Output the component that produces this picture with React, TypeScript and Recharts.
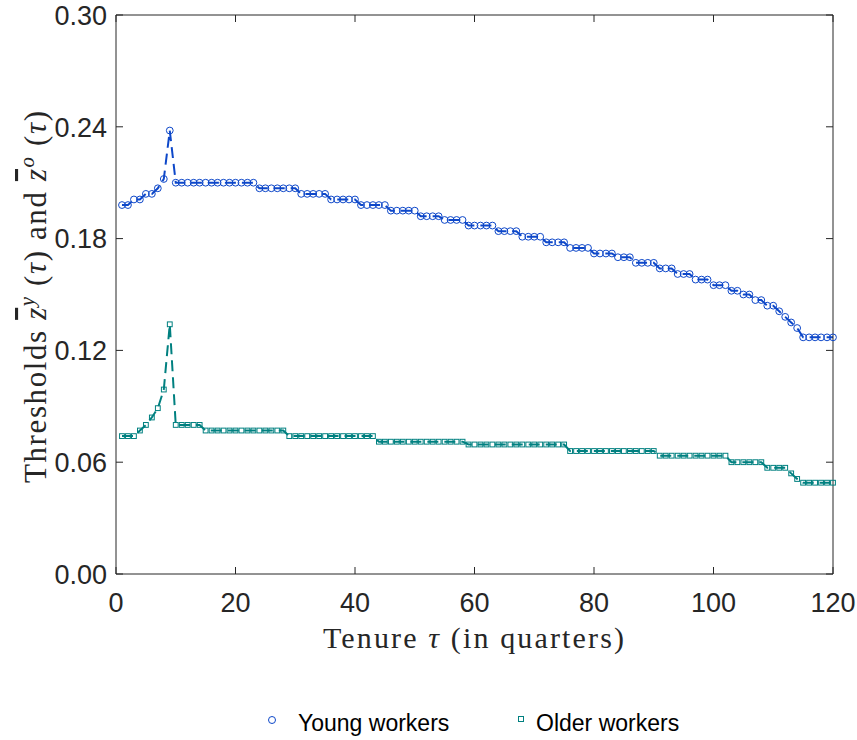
import { LineChart, Line, XAxis, YAxis } from "recharts";

const TAU = [
  1, 2, 3, 4, 5, 6, 7, 8, 9, 10, 11, 12, 13, 14, 15, 16, 17, 18, 19, 20,
  21, 22, 23, 24, 25, 26, 27, 28, 29, 30, 31, 32, 33, 34, 35, 36, 37, 38, 39, 40,
  41, 42, 43, 44, 45, 46, 47, 48, 49, 50, 51, 52, 53, 54, 55, 56, 57, 58, 59, 60,
  61, 62, 63, 64, 65, 66, 67, 68, 69, 70, 71, 72, 73, 74, 75, 76, 77, 78, 79, 80,
  81, 82, 83, 84, 85, 86, 87, 88, 89, 90, 91, 92, 93, 94, 95, 96, 97, 98, 99, 100,
  101, 102, 103, 104, 105, 106, 107, 108, 109, 110, 111, 112, 113, 114, 115, 116, 117, 118, 119, 120,
];

const YOUNG = [
  0.198, 0.198, 0.201, 0.201, 0.204, 0.204, 0.207, 0.212, 0.238, 0.21,
  0.21, 0.21, 0.21, 0.21, 0.21, 0.21, 0.21, 0.21, 0.21, 0.21,
  0.21, 0.21, 0.21, 0.207, 0.207, 0.207, 0.207, 0.207, 0.207, 0.207,
  0.204, 0.204, 0.204, 0.204, 0.204, 0.201, 0.201, 0.201, 0.201, 0.201,
  0.198, 0.198, 0.198, 0.198, 0.198, 0.195, 0.195, 0.195, 0.195, 0.195,
  0.192, 0.192, 0.192, 0.192, 0.19, 0.19, 0.19, 0.19, 0.187, 0.187,
  0.187, 0.187, 0.187, 0.184, 0.184, 0.184, 0.184, 0.181, 0.181, 0.181,
  0.181, 0.178, 0.178, 0.178, 0.178, 0.175, 0.175, 0.175, 0.175, 0.172,
  0.172, 0.172, 0.172, 0.17, 0.17, 0.17, 0.167, 0.167, 0.167, 0.167,
  0.164, 0.164, 0.164, 0.161, 0.161, 0.161, 0.158, 0.158, 0.158, 0.155,
  0.155, 0.155, 0.152, 0.152, 0.15, 0.15, 0.147, 0.147, 0.144, 0.144,
  0.141, 0.138, 0.135, 0.132, 0.127, 0.127, 0.127, 0.127, 0.127, 0.127,
];

const OLDER = [
  0.074, 0.074, 0.074, 0.077, 0.08, 0.084, 0.089, 0.099, 0.134, 0.08,
  0.08, 0.08, 0.08, 0.08, 0.077, 0.077, 0.077, 0.077, 0.077, 0.077,
  0.077, 0.077, 0.077, 0.077, 0.077, 0.077, 0.077, 0.077, 0.074, 0.074,
  0.074, 0.074, 0.074, 0.074, 0.074, 0.074, 0.074, 0.074, 0.074, 0.074,
  0.074, 0.074, 0.074, 0.071, 0.071, 0.071, 0.071, 0.071, 0.071, 0.071,
  0.071, 0.071, 0.071, 0.071, 0.071, 0.071, 0.071, 0.071, 0.0695, 0.0695,
  0.0695, 0.0695, 0.0695, 0.0695, 0.0695, 0.0695, 0.0695, 0.0695, 0.0695, 0.0695,
  0.0695, 0.0695, 0.0695, 0.0695, 0.0695, 0.066, 0.066, 0.066, 0.066, 0.066,
  0.066, 0.066, 0.066, 0.066, 0.066, 0.066, 0.066, 0.066, 0.066, 0.066,
  0.0635, 0.0635, 0.0635, 0.0635, 0.0635, 0.0635, 0.0635, 0.0635, 0.0635, 0.0635,
  0.0635, 0.0635, 0.06, 0.06, 0.06, 0.06, 0.06, 0.06, 0.057, 0.057,
  0.057, 0.057, 0.054, 0.051, 0.049, 0.049, 0.049, 0.049, 0.049, 0.049,
];

const X_TICKS = [0, 20, 40, 60, 80, 100, 120];
const Y_TICKS = [0, 0.06, 0.12, 0.18, 0.24, 0.3];

const BLUE = "#0d47c9";
const TEAL = "#008080";
const AXIS = "#262626";
const SANS = "'Liberation Sans', Arial, sans-serif";
const SERIF = "'Liberation Serif', 'Times New Roman', serif";

// plot box (svg coords)
const LEFT = 116;
const TOP = 15;
const RIGHT = 833;
const BOTTOM = 574;
const TICK = 7;

const data = TAU.map((t, i) => ({ tau: t, young: YOUNG[i], older: OLDER[i] }));

const BottomTick = (p: any) => (
  <g>
    <line x1={p.x} x2={p.x} y1={BOTTOM} y2={BOTTOM - TICK} stroke={AXIS} />
    <text x={p.x} y={612} textAnchor="middle" fontFamily={SANS} fontSize={27} fill={AXIS}>
      {p.payload.value}
    </text>
  </g>
);

const TopTick = (p: any) => (
  <line x1={p.x} x2={p.x} y1={TOP} y2={TOP + TICK} stroke={AXIS} />
);

const LeftTick = (p: any) => (
  <g>
    <line x1={LEFT} x2={LEFT + TICK} y1={p.y} y2={p.y} stroke={AXIS} />
    <text x={107} y={p.y} dy="0.36em" textAnchor="end" fontFamily={SANS} fontSize={27} fill={AXIS}>
      {Number(p.payload.value).toFixed(2)}
    </text>
  </g>
);

const RightTick = (p: any) => (
  <line x1={RIGHT} x2={RIGHT - TICK} y1={p.y} y2={p.y} stroke={AXIS} />
);

const CircleDot = (p: any) => (
  <circle key={`c${p.index}`} cx={p.cx} cy={p.cy} r={3.4} fill="none" stroke={BLUE} strokeWidth={1} />
);

const SquareDot = (p: any) => (
  <rect key={`s${p.index}`} x={p.cx - 2.4} y={p.cy - 2.4} width={4.8} height={4.8} fill="none" stroke={TEAL} strokeWidth={1} />
);

export default function App() {
  return (
    <div style={{ position: "absolute", left: 0, top: 0, width: 857, height: 740, background: "#fff" }}>
      <LineChart width={857} height={740} data={data} margin={{ top: 14, right: 23, bottom: 136, left: 56 }}>
        <XAxis
          dataKey="tau"
          type="number"
          domain={[0, 120]}
          ticks={X_TICKS}
          height={30}
          tickSize={0}
          tickLine={false}
          axisLine={{ stroke: AXIS }}
          tick={BottomTick}
          interval={0}
        />
        <XAxis
          xAxisId="top"
          dataKey="tau"
          orientation="top"
          type="number"
          domain={[0, 120]}
          ticks={X_TICKS}
          height={1}
          tickSize={0}
          tickLine={false}
          axisLine={{ stroke: AXIS }}
          tick={TopTick}
          interval={0}
        />
        <YAxis
          type="number"
          domain={[0, 0.3]}
          ticks={Y_TICKS}
          width={60}
          tickSize={0}
          tickLine={false}
          axisLine={{ stroke: AXIS }}
          tick={LeftTick}
          interval={0}
        />
        <YAxis
          yAxisId="right"
          orientation="right"
          type="number"
          domain={[0, 0.3]}
          ticks={Y_TICKS}
          width={1}
          tickSize={0}
          tickLine={false}
          axisLine={{ stroke: AXIS }}
          tick={RightTick}
          interval={0}
        />
        {/* invisible series so the top/right frame axes get drawn */}
        <Line
          xAxisId="top"
          yAxisId="right"
          dataKey="older"
          stroke="none"
          dot={false}
          activeDot={false}
          legendType="none"
          isAnimationActive={false}
        />
        <Line
          type="linear"
          dataKey="young"
          stroke={BLUE}
          strokeWidth={2}
          strokeDasharray="11 6"
          dot={CircleDot}
          isAnimationActive={false}
        />
        <Line
          type="linear"
          dataKey="older"
          stroke={TEAL}
          strokeWidth={2}
          strokeDasharray="11 6"
          dot={SquareDot}
          isAnimationActive={false}
        />
      </LineChart>

      {/* axis titles and legend */}
      <svg width={857} height={740} style={{ position: "absolute", left: 0, top: 0, pointerEvents: "none" }}>
        <text
          x={323}
          y={648}
          textLength={301}
          lengthAdjust="spacing"
          fontFamily={SERIF}
          fontSize={30}
          fill={AXIS}
        >
          Tenure <tspan fontStyle="italic">τ</tspan> (in quarters)
        </text>
        <text
          transform="translate(46, 483) rotate(-90)"
          x={0}
          y={0}
          textLength={372}
          lengthAdjust="spacing"
          fontFamily={SERIF}
          fontSize={31}
          fill={AXIS}
        >
          Thresholds <tspan fontStyle="italic" style={{ textDecoration: "overline" }}>z</tspan>
          <tspan fontStyle="italic" fontSize={21} dy={-12}>y</tspan>
          <tspan dy={12}> (</tspan>
          <tspan fontStyle="italic">τ</tspan>) and{" "}
          <tspan fontStyle="italic" style={{ textDecoration: "overline" }}>z</tspan>
          <tspan fontStyle="italic" fontSize={21} dy={-12}>o</tspan>
          <tspan dy={12}> (</tspan>
          <tspan fontStyle="italic">τ</tspan>)
        </text>

        <circle cx={272} cy={720} r={3.5} fill="none" stroke={BLUE} strokeWidth={1} />
        <text x={298} y={731} fontFamily={SANS} fontSize={23} fill="#000">
          Young workers
        </text>
        <rect x={518.5} y={716.5} width={5} height={5} fill="none" stroke={TEAL} strokeWidth={1} />
        <text x={536} y={731} fontFamily={SANS} fontSize={23} fill="#000">
          Older workers
        </text>
      </svg>
    </div>
  );
}
